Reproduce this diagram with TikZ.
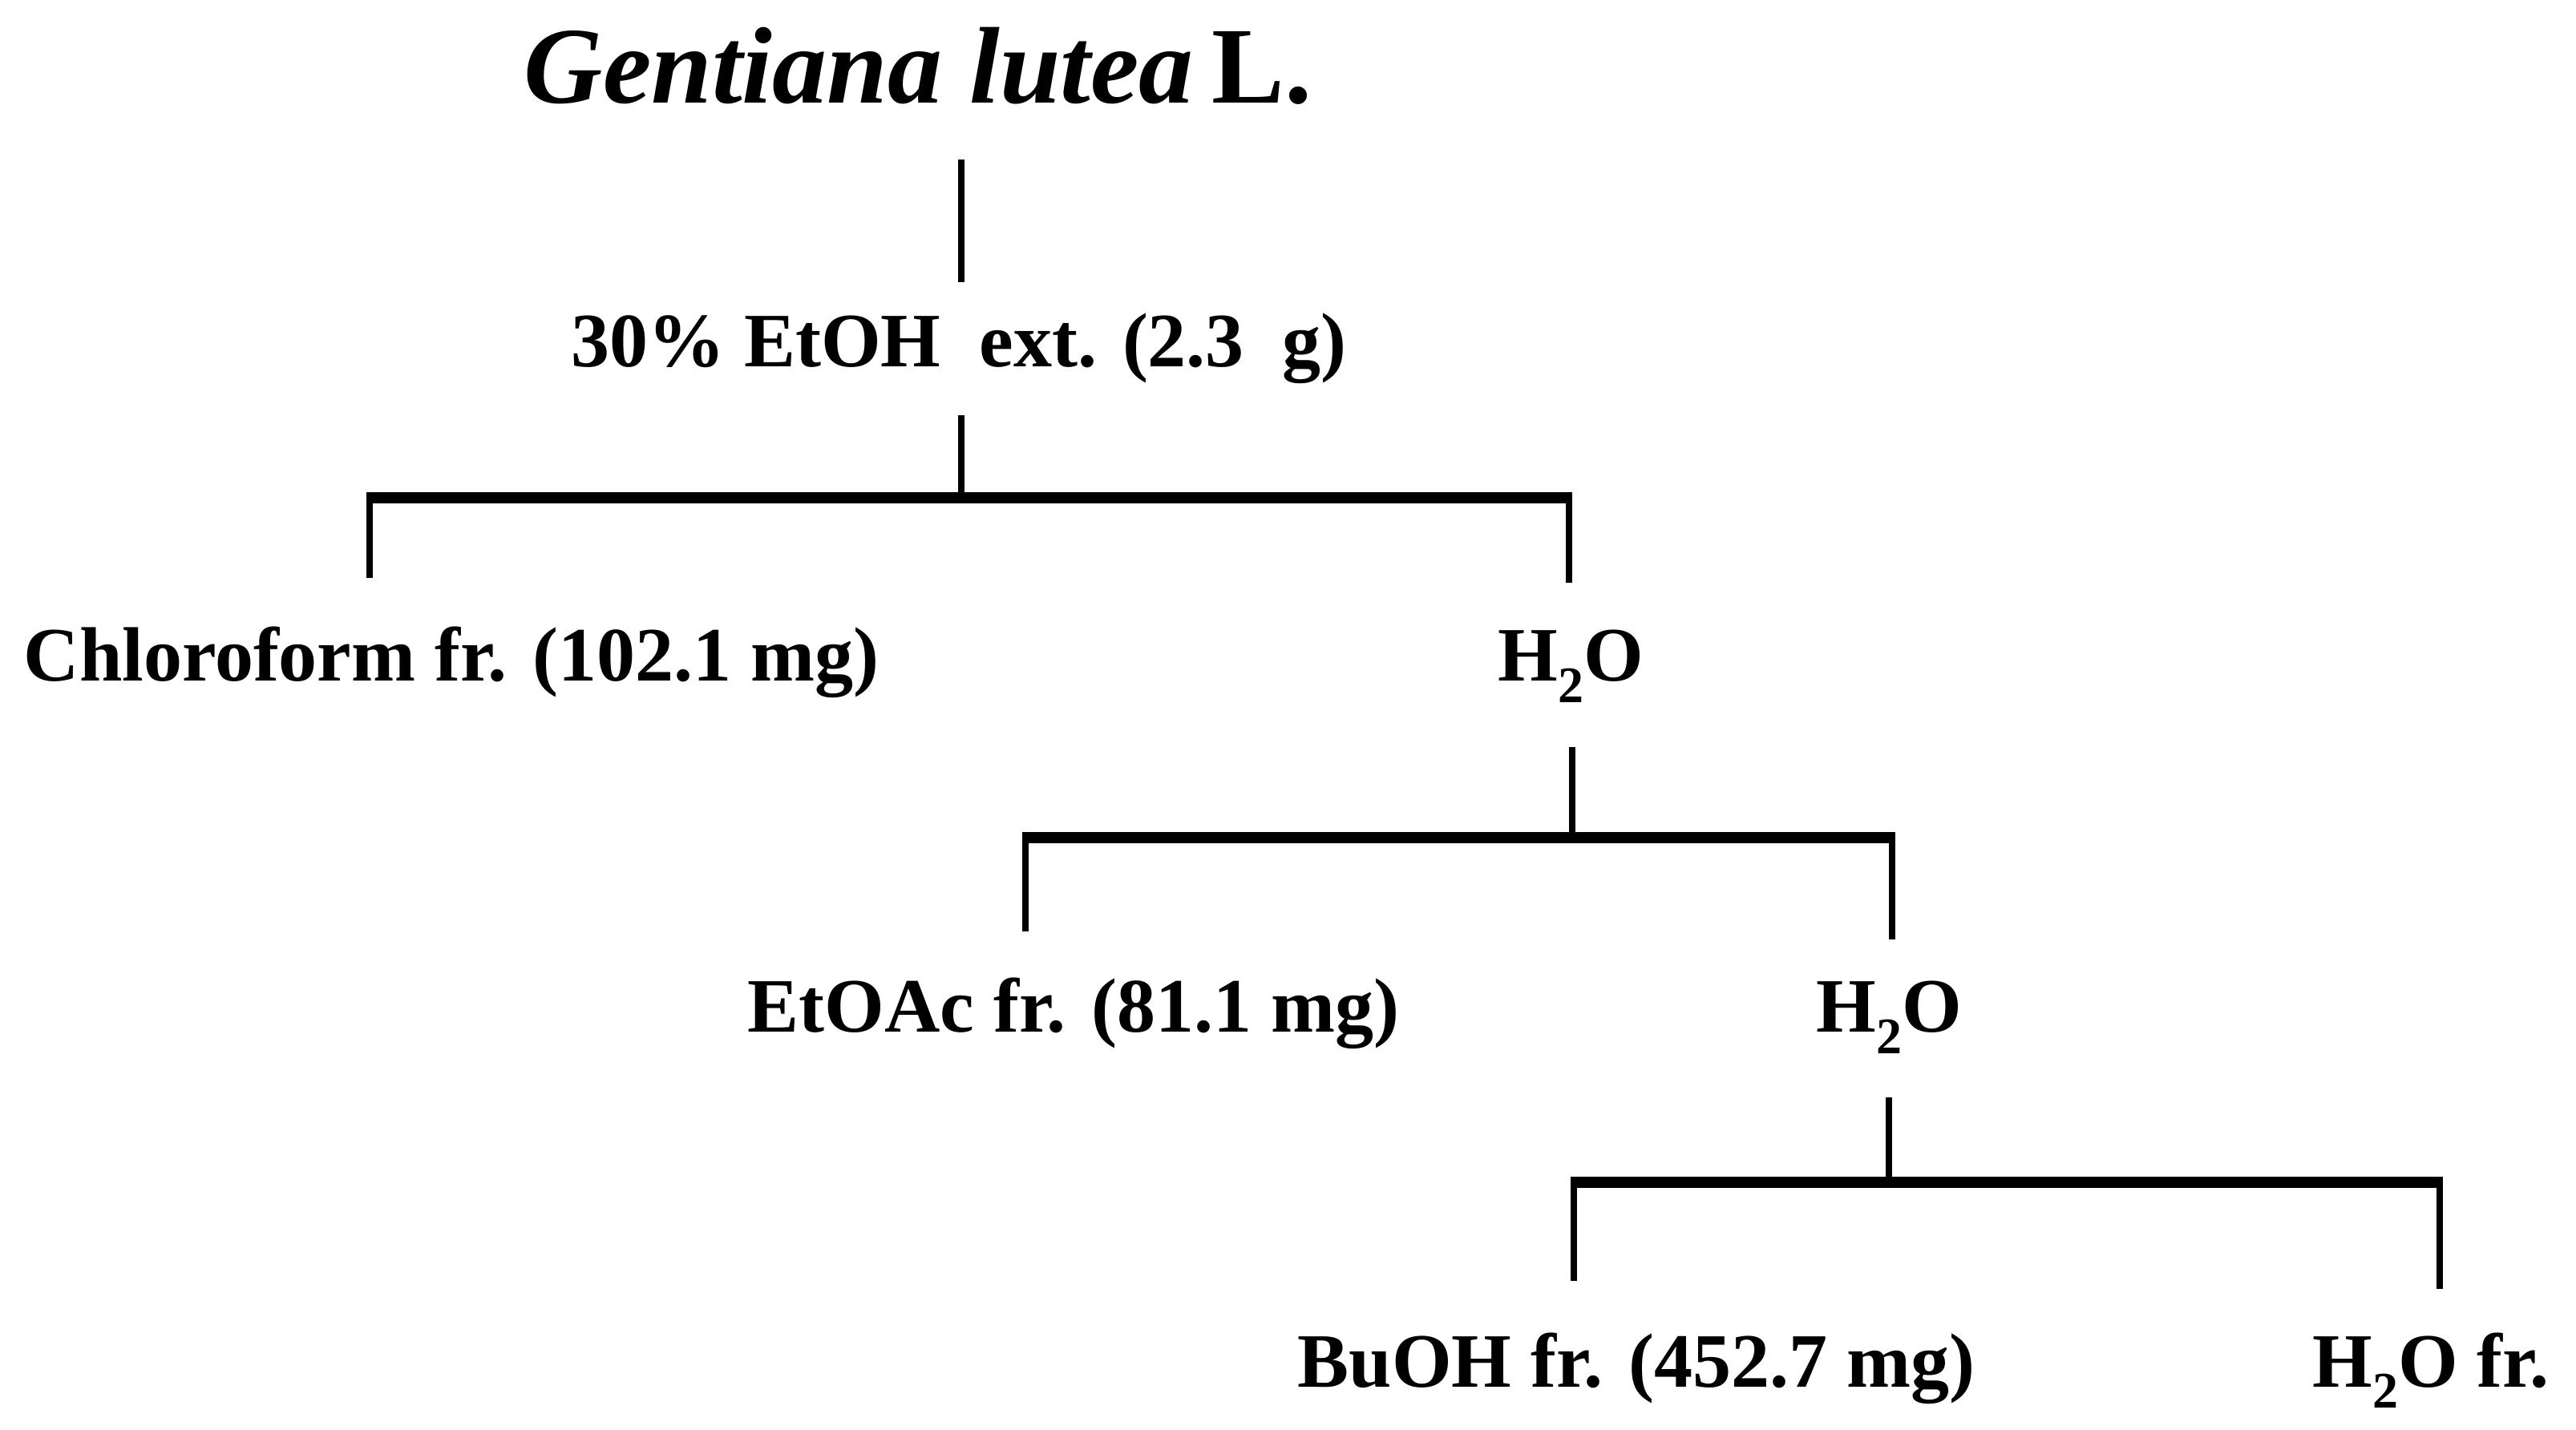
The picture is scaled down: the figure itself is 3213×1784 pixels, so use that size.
\documentclass[tikz,border=0pt]{standalone}
\usepackage{fontspec}
\setmainfont{Liberation Serif}
\newcommand{\mysub}[1]{\raisebox{-0.28em}{\fontsize{16}{18}\selectfont #1}}
\tikzset{
  lbl/.style={font=\fontsize{24}{28}\selectfont\bfseries, inner sep=0pt, anchor=base},
  vline/.style={line width=2.1pt, line cap=butt},
  hbar/.style={line width=3.4pt, line cap=butt},
}
\begin{document}
\begin{tikzpicture}[x=0.25pt, y=-0.25pt]
\useasboundingbox (0,0) rectangle (3213,1784);
% nodes
\node[lbl, font=\fontsize{34}{40}\selectfont] (title) at (1145,129) {\textbf{\textit{Gentiana lutea}}\,\textbf{L.}};
\node[lbl] (ext) at (1196,458) {30\% EtOH\ \ ext. (2.3\ \ g)};
\node[lbl] (chl) at (563,850) {Chloroform fr. (102.1 mg)};
\node[lbl] (wa) at (1959,850) {H\mysub{2}O};
\node[lbl] (eto) at (1339,1288) {EtOAc fr. (81.1 mg)};
\node[lbl] (wb) at (2356,1288) {H\mysub{2}O};
\node[lbl] (buo) at (2041,1730) {BuOH fr. (452.7 mg)};
\node[lbl] (wc) at (3032,1730) {H\mysub{2}O fr.};
% connector points
\coordinate (t1) at (1199,199);
\coordinate (t2) at (1199,352);
\coordinate (e1) at (1199,518);
\coordinate (j1) at (1199,621);
\coordinate (b1l) at (461,621);
\coordinate (b1r) at (1957,621);
\coordinate (c1) at (461,721);
\coordinate (w1) at (1957,727);
\coordinate (wa1) at (1961,932);
\coordinate (j2) at (1961,1045);
\coordinate (b2l) at (1279,1045);
\coordinate (b2r) at (2360,1045);
\coordinate (c2) at (1279,1162);
\coordinate (w2) at (2360,1172);
\coordinate (wb1) at (2356,1369);
\coordinate (j3) at (2356,1475);
\coordinate (b3l) at (1963,1475);
\coordinate (b3r) at (3043,1475);
\coordinate (c3) at (1963,1598);
\coordinate (w3) at (3043,1608);
% connectors
\draw[vline] (t1) -- (t2);
\draw[vline] (e1) -- (j1);
\draw[hbar] ([xshift=-1.05pt]b1l) -- ([xshift=1.05pt]b1r);
\draw[vline] (b1l) -- (c1);
\draw[vline] (b1r) -- (w1);
\draw[vline] (wa1) -- (j2);
\draw[hbar] ([xshift=-1.05pt]b2l) -- ([xshift=1.05pt]b2r);
\draw[vline] (b2l) -- (c2);
\draw[vline] (b2r) -- (w2);
\draw[vline] (wb1) -- (j3);
\draw[hbar] ([xshift=-1.05pt]b3l) -- ([xshift=1.05pt]b3r);
\draw[vline] (b3l) -- (c3);
\draw[vline] (b3r) -- (w3);
\end{tikzpicture}
\end{document}
